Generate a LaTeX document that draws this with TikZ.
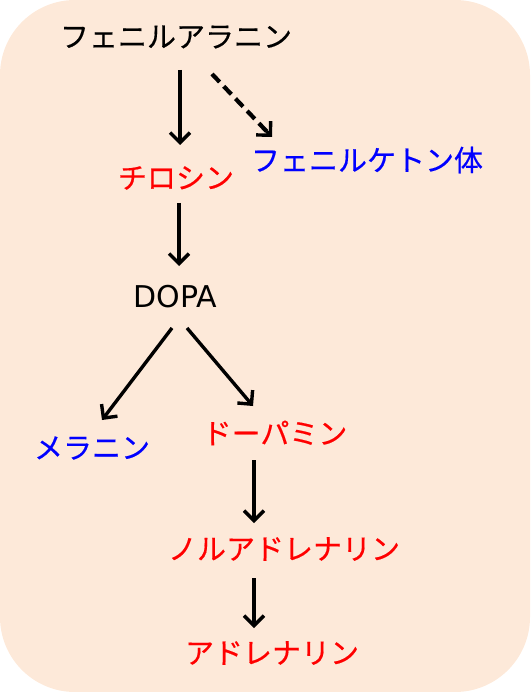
\documentclass[tikz,border=0pt]{standalone}
\usepackage{fontspec}
\setmainfont{Noto Sans CJK JP}[FakeBold=0.4]
\newfontfamily\latinfont{DejaVu Sans}
\usetikzlibrary{arrows.meta,calc}
\definecolor{bgpeach}{RGB}{253,233,217}
\definecolor{txtred}{RGB}{255,0,0}
\definecolor{txtblue}{RGB}{0,0,255}
\begin{document}
\begin{tikzpicture}[x=1pt,y=-1pt,
  lbl/.style={inner sep=0pt, font=\fontsize{29}{35}\selectfont},
  arr/.style={line width=3.4pt, -{Straight Barb[length=10pt,width=20pt]}},
  dashline/.style={line width=4.2pt, dash pattern=on 11pt off 6pt}]
\useasboundingbox (0,0) rectangle (530,692);
\fill[bgpeach, rounded corners=75pt] (0,0) rectangle (530,692);
\node[lbl] (phe) at (176,37) {フェニルアラニン};
\node[lbl, txtred] (tyr) at (176,178) {チロシン};
\node[lbl, txtblue] (pk) at (367,160) {フェニルケトン体};
\node[lbl, font=\latinfont\fontsize{30}{36}\selectfont] (dopa) at (175,297) {DOPA};
\node[lbl, txtblue] (mel) at (92,448) {メラニン};
\node[lbl, txtred] (dop) at (275,433) {ドーパミン};
\node[lbl, txtred] (nor) at (284,549) {ノルアドレナリン};
\node[lbl, txtred] (adr) at (272,653) {アドレナリン};
\draw[arr] ($(phe)+(4,33)$) -- ($(tyr)+(4,-33)$);
\coordinate (dsA) at ($(phe)+(36,37)$);
\coordinate (dsB) at ($(pk)+(-95,-23)$);
\draw[dashline] (dsA) -- ($(dsB)!8pt!(dsA)$);
\draw[arr] ($(dsB)!8pt!(dsA)$) -- (dsB);
\draw[arr] ($(tyr)+(3,25)$) -- ($(dopa)+(4,-31)$);
\draw[arr] ($(dopa)+(-3,31)$) -- ($(mel)+(10,-28)$);
\draw[arr] ($(dopa)+(12,31)$) -- ($(dop)+(-22,-27)$);
\draw[arr] ($(dop)+(-21,27)$) -- ($(nor)+(-30,-26)$);
\draw[arr] ($(nor)+(-30,29)$) -- ($(adr)+(-18,-25)$);
\end{tikzpicture}
\end{document}
